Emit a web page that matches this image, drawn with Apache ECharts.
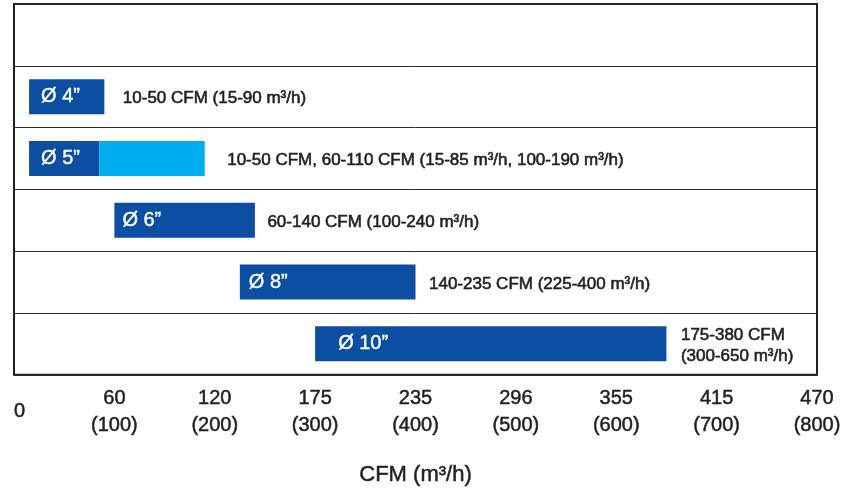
<!DOCTYPE html>
<html>
<head>
<meta charset="utf-8">
<script src="https://cdn.jsdelivr.net/npm/echarts@6/dist/echarts.min.js"></script>
<style>
html,body{margin:0;padding:0;background:#fff;}
#chart{width:845px;height:491px;}
</style>
</head>
<body>
<div id="chart"></div>
<script>
// ---- data ----
const categories = ['', 'Ø 4”', 'Ø 5”', 'Ø 6”', 'Ø 8”', 'Ø 10”'];
const rangeStart = [null, 15, 15, 100, 225, 300];   // m³/h
const rangeEnd   = [null, 90, 85, 240, 400, 650];   // m³/h
const extStart   = [null, null, 85, null, null, null];
const extEnd     = [null, null, 190, null, null, null];
const descLabels = [
  '',
  '10-50 CFM (15-90 m³/h)',
  '10-50 CFM, 60-110 CFM (15-85 m³/h, 100-190 m³/h)',
  '60-140 CFM (100-240 m³/h)',
  '140-235 CFM (225-400 m³/h)',
  '175-380 CFM\n(300-650 m³/h)'
];
const m3hTicks = [0, 100, 200, 300, 400, 500, 600, 700, 800];
const cfmTicks = ['0', '60', '120', '175', '235', '296', '355', '415', '470'];
const axisTitle = 'CFM (m³/h)';

// ---- styling helpers (not data) ----
const nameLabelGap = [0, 12, 12, 8, 9, 23];
const descLabelGap = [0, 18, 22, 12, 13, 14];
const DARK = '#0c4ea1';
const LIGHT = '#00aeef';
const TEXT = '#231f20';
const FONT = '"Liberation Sans", Arial, Helvetica, sans-serif';

const baseData = rangeStart.map(v => v == null ? null : v);
const darkData = rangeStart.map((s, i) => {
  if (s == null) return null;
  return {
    value: rangeEnd[i] - s,
    label: { show: true, position: 'insideLeft', distance: nameLabelGap[i], formatter: categories[i] }
  };
});
const lightData = extStart.map((s, i) => s == null ? null : extEnd[i] - s);
const descData = descLabels.map((t, i) => {
  if (!t) return null;
  const end = extEnd[i] != null ? extEnd[i] : rangeEnd[i];
  return {
    value: [end, i],
    label: { show: true, position: 'right', distance: descLabelGap[i], formatter: t }
  };
}).filter(d => d);

const chart = echarts.init(document.getElementById('chart'), null, { renderer: 'canvas' });
chart.setOption({
  animation: false,
  backgroundColor: '#fff',
  grid: {
    left: 14, right: 28, top: 4, bottom: 113,
    show: true, borderColor: TEXT, borderWidth: 2, backgroundColor: 'transparent'
  },
  xAxis: {
    type: 'value',
    min: 0, max: 800, interval: 100,
    axisLine: { show: false },
    axisTick: { show: false },
    splitLine: { show: false },
    axisLabel: {
      margin: 37,
      verticalAlign: 'middle',
      alignMinLabel: 'left',
      fontFamily: FONT,
      fontSize: 20,
      lineHeight: 27,
      color: TEXT,
      textBorderColor: TEXT,
      textBorderWidth: 0.5,
      formatter: function (v) {
        const i = m3hTicks.indexOf(v);
        if (i < 0) return '';
        if (v === 0) return cfmTicks[i];
        return cfmTicks[i] + '\n(' + v + ')';
      }
    },
    name: axisTitle,
    nameLocation: 'middle',
    nameGap: 100,
    nameTextStyle: {
      fontFamily: FONT, fontSize: 22, color: TEXT, verticalAlign: 'middle',
      textBorderColor: TEXT, textBorderWidth: 0.5
    }
  },
  yAxis: {
    type: 'category',
    data: categories,
    inverse: true,
    axisLine: { show: false },
    axisTick: { show: false },
    axisLabel: { show: false },
    splitLine: { show: true, interval: 0, lineStyle: { color: '#2a2a2a', width: 1 } }
  },
  series: [
    {
      type: 'bar', stack: 'r', silent: true, barWidth: 35,
      itemStyle: { color: 'transparent' },
      data: baseData
    },
    {
      type: 'bar', stack: 'r', silent: true, barWidth: 35,
      itemStyle: { color: DARK },
      label: {
        color: '#fff', fontFamily: FONT, fontSize: 20,
        textBorderColor: '#fff', textBorderWidth: 0.4
      },
      data: darkData
    },
    {
      type: 'bar', stack: 'r', silent: true, barWidth: 35,
      itemStyle: { color: LIGHT },
      data: lightData
    },
    {
      type: 'scatter', silent: true, symbolSize: 1,
      itemStyle: { color: 'rgba(0,0,0,0)', opacity: 1 },
      label: {
        color: TEXT, fontFamily: FONT, fontSize: 17, lineHeight: 21, align: 'left',
        textBorderColor: TEXT, textBorderWidth: 0.6, offset: [0, 2]
      },
      data: descData
    }
  ]
});
</script>
</body>
</html>
